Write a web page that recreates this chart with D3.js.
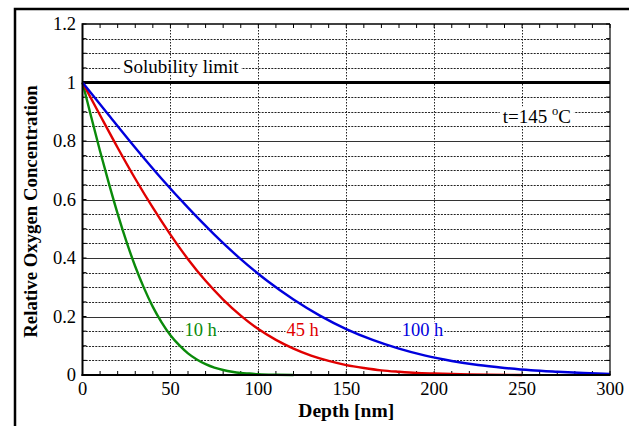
<!DOCTYPE html>
<html>
<head>
<meta charset="utf-8">
<script src="https://cdnjs.cloudflare.com/ajax/libs/d3/7.8.5/d3.min.js"></script>
<style>
  body { margin: 0; background: #fff; }
  text { font-family: "Liberation Serif", "Times New Roman", serif; }
</style>
</head>
<body>
<div id="chart"></div>
<script>
// values (depth in nm, relative concentration)
var depth10 = [0, 5, 10, 15, 20, 25, 30, 35, 40, 45, 50, 55, 60, 65, 70, 75, 80, 85, 90, 95, 100, 110, 120];
var conc10 = [1, 0.881, 0.765, 0.655, 0.551, 0.456, 0.371, 0.297, 0.233, 0.18, 0.136, 0.102, 0.074, 0.053, 0.037, 0.025, 0.017, 0.011, 0.007, 0.005, 0.003, 0.001, 0];

var depth45 = [0, 10, 20, 30, 40, 50, 60, 70, 80, 90, 100, 110, 120, 130, 140, 150, 160, 170, 180, 190, 200, 220, 250];
var conc45 = [1, 0.888, 0.777, 0.671, 0.572, 0.48, 0.396, 0.322, 0.258, 0.203, 0.157, 0.12, 0.09, 0.066, 0.048, 0.034, 0.024, 0.016, 0.011, 0.007, 0.005, 0.002, 0];

var depth100 = [0, 15, 30, 45, 60, 75, 90, 105, 120, 135, 150, 165, 180, 195, 210, 225, 240, 255, 270, 285, 300];
var conc100 = [1, 0.888, 0.777, 0.671, 0.572, 0.48, 0.396, 0.322, 0.258, 0.203, 0.157, 0.12, 0.09, 0.066, 0.048, 0.034, 0.024, 0.016, 0.011, 0.007, 0.004];

var seriesNames = ["10 h", "45 h", "100 h"];
var seriesColors = ["#0a8a0a", "#e00000", "#0000dd"];
var labelPos = [[58, 0.135], [116, 0.135], [181.5, 0.135]];

var xTicks = [0, 50, 100, 150, 200, 250, 300];
var yTicks = [0, 0.2, 0.4, 0.6, 0.8, 1, 1.2];
var solubility = 1;

var w = 629;
var h = 426;
var x0 = 82.5, x1 = 610, y0 = 375, y1 = 24;

var xScale = d3.scaleLinear().domain([0, 300]).range([x0, x1]);
var yScale = d3.scaleLinear().domain([0, 1.2]).range([y0, y1]);

var svg = d3.select("#chart").append("svg").attr("width", w).attr("height", h);

// outer frame
svg.append("rect").attr("x", 15).attr("y", 9).attr("width", 700).attr("height", 500)
  .attr("fill", "none").attr("stroke", "#000").attr("stroke-width", 2.5);

var grid = svg.append("g");

// minor horizontal dotted lines every 0.05
var minorY = d3.range(1, 24).map((i) => i * 0.05).filter((v) => Math.abs(v * 5 - Math.round(v * 5)) > 0.01);
grid.selectAll(".hminor").data(minorY).enter().append("line")
  .attr("x1", x0).attr("x2", x1)
  .attr("y1", (d) => Math.round(yScale(d)) + 0.5).attr("y2", (d) => Math.round(yScale(d)) + 0.5)
  .attr("stroke", "#222").attr("stroke-width", 1).attr("stroke-dasharray", "2,1.2");

// major horizontal solid lines
grid.selectAll(".hmajor").data([0.2, 0.4, 0.6, 0.8]).enter().append("line")
  .attr("x1", x0).attr("x2", x1)
  .attr("y1", (d) => Math.round(yScale(d)) + 0.5).attr("y2", (d) => Math.round(yScale(d)) + 0.5)
  .attr("stroke", "#333").attr("stroke-width", 1.2);

// vertical dotted lines
grid.selectAll(".vmajor").data([50, 100, 150, 200, 250]).enter().append("line")
  .attr("x1", (d) => Math.round(xScale(d)) + 0.5).attr("x2", (d) => Math.round(xScale(d)) + 0.5)
  .attr("y1", y1).attr("y2", y0)
  .attr("stroke", "#222").attr("stroke-width", 1).attr("stroke-dasharray", "1.5,1.5");

// tick marks on all four sides
var xMinor = d3.range(0, 301, 10);
var yMinor = d3.range(0, 25).map((i) => i * 0.05);
var tickLen = 4;
grid.selectAll(".tb").data(xMinor).enter().append("line")
  .attr("x1", (d) => xScale(d)).attr("x2", (d) => xScale(d))
  .attr("y1", y0).attr("y2", y0 - tickLen).attr("stroke", "#000");
grid.selectAll(".tt").data(xMinor).enter().append("line")
  .attr("x1", (d) => xScale(d)).attr("x2", (d) => xScale(d))
  .attr("y1", y1).attr("y2", y1 + tickLen).attr("stroke", "#000");
grid.selectAll(".tl").data(yMinor).enter().append("line")
  .attr("x1", x0).attr("x2", x0 + tickLen)
  .attr("y1", (d) => yScale(d)).attr("y2", (d) => yScale(d)).attr("stroke", "#000");
grid.selectAll(".tr").data(yMinor).enter().append("line")
  .attr("x1", x1).attr("x2", x1 - tickLen)
  .attr("y1", (d) => yScale(d)).attr("y2", (d) => yScale(d)).attr("stroke", "#000");

// helper: text with white box behind it
function boxedText(g, x, y, str, color, pad, size) {
  var grp = g.append("g");
  var r = grp.append("rect").attr("fill", "#fff");
  var t = grp.append("text").attr("x", x).attr("y", y).attr("fill", color)
    .attr("font-size", size).text(str);
  var b = t.node().getBBox();
  r.attr("x", b.x - pad).attr("y", b.y + 2).attr("width", b.width + 2 * pad).attr("height", b.height - 4);
  return t;
}

// solubility limit
svg.append("line")
  .attr("x1", xScale(0)).attr("x2", xScale(300))
  .attr("y1", yScale(solubility)).attr("y2", yScale(solubility))
  .attr("stroke", "#000").attr("stroke-width", 3.2);
boxedText(svg, xScale(23), yScale(1.032), "Solubility limit", "#000", 2, 19);

// temperature label
var tg = svg.append("g");
var tr = tg.append("rect").attr("fill", "#fff");
var tt = tg.append("text").attr("x", xScale(239)).attr("y", yScale(0.86)).attr("font-size", 19);
tt.append("tspan").text("t=145 ");
tt.append("tspan").attr("font-size", 12.5).attr("dy", -8).text("o");
tt.append("tspan").attr("dy", 8).text("C");
var tb = tt.node().getBBox();
tr.attr("x", tb.x - 3).attr("y", tb.y + 2).attr("width", tb.width + 6).attr("height", tb.height - 4);

// curves
var lineGen = d3.line().x((d) => xScale(d[0])).y((d) => yScale(d[1])).curve(d3.curveMonotoneX);
var series = [d3.zip(depth10, conc10), d3.zip(depth45, conc45), d3.zip(depth100, conc100)];

// series labels (drawn before the curves so lines pass over the boxes)
seriesNames.forEach(function(name, i) {
  boxedText(svg, xScale(labelPos[i][0]), yScale(labelPos[i][1]), name, seriesColors[i], 1, 18.5);
});

series.forEach(function(s, i) {
  svg.append("path").datum(s).attr("d", lineGen)
    .attr("fill", "none").attr("stroke", seriesColors[i]).attr("stroke-width", 2.4);
});

// plot frame
svg.append("line").attr("x1", x0).attr("x2", x1).attr("y1", y1).attr("y2", y1).attr("stroke", "#000").attr("stroke-width", 1.5);
svg.append("line").attr("x1", x1).attr("x2", x1).attr("y1", y1).attr("y2", y0).attr("stroke", "#000").attr("stroke-width", 1.2);
svg.append("line").attr("x1", x0).attr("x2", x0).attr("y1", y1 - 0.75).attr("y2", y0 + 1).attr("stroke", "#000").attr("stroke-width", 2);
svg.append("line").attr("x1", x0 - 1).attr("x2", x1 + 0.6).attr("y1", y0).attr("y2", y0).attr("stroke", "#000").attr("stroke-width", 2);

// tick labels
svg.selectAll(".xl").data(xTicks).enter().append("text")
  .attr("x", (d) => xScale(d)).attr("y", 395)
  .attr("text-anchor", "middle").attr("font-size", 18.5).text((d) => d);
svg.selectAll(".yl").data(yTicks).enter().append("text")
  .attr("x", 76).attr("y", (d) => yScale(d) + 6)
  .attr("text-anchor", "end").attr("font-size", 18.5).text((d) => d);

// axis titles
svg.append("text").attr("x", (x0 + x1) / 2).attr("y", 417)
  .attr("text-anchor", "middle").attr("font-size", 19.5).attr("font-weight", "bold").text("Depth [nm]");
svg.append("text").attr("transform", "translate(37," + ((y0 + y1) / 2 + 12) + ") rotate(-90)")
  .attr("text-anchor", "middle").attr("font-size", 18.8).attr("font-weight", "bold")
  .text("Relative Oxygen Concentration");
</script>
</body>
</html>
